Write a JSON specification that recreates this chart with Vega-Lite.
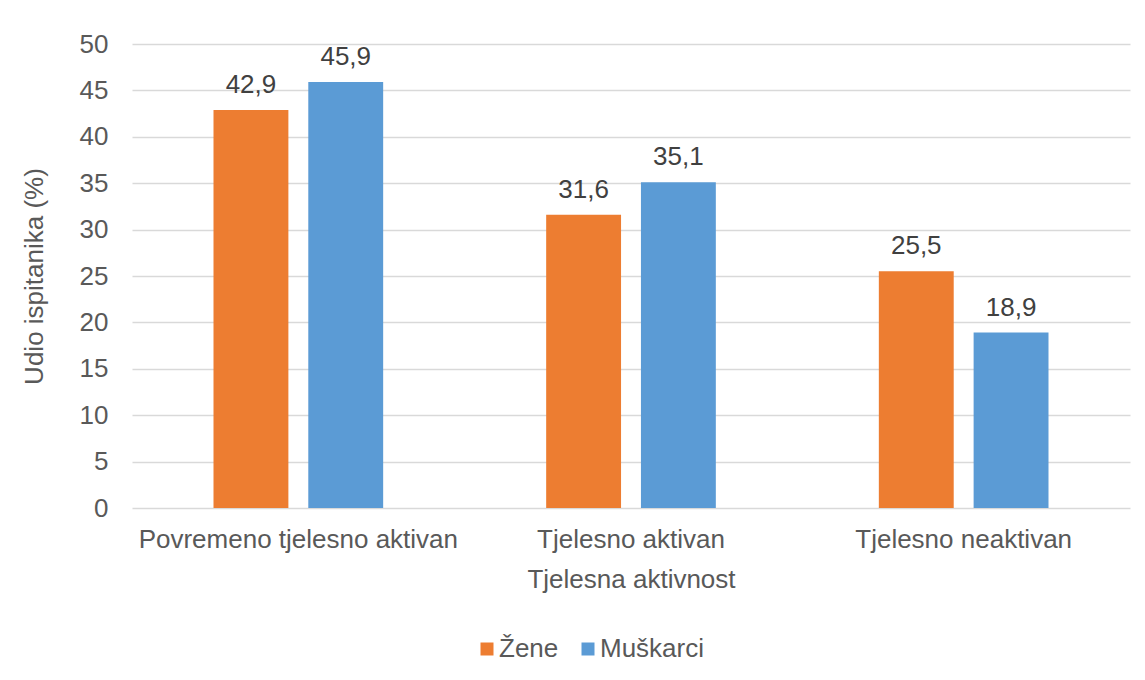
{
  "$schema": "https://vega.github.io/schema/vega-lite/v6.json",
  "width": 998,
  "height": 464,
  "autosize": {"type": "none"},
  "padding": {"left": 132, "top": 44, "right": 15, "bottom": 172},
  "background": "white",
  "config": {
    "font": "Liberation Sans",
    "view": {"stroke": null},
    "locale": {"number": {"decimal": ",", "thousands": ".", "grouping": [3], "currency": ["", ""]}}
  },
  "data": {
    "values": [
      {"aktivnost": "Povremeno tjelesno aktivan", "spol": "Žene", "udio": 42.9},
      {"aktivnost": "Povremeno tjelesno aktivan", "spol": "Muškarci", "udio": 45.9},
      {"aktivnost": "Tjelesno aktivan", "spol": "Žene", "udio": 31.6},
      {"aktivnost": "Tjelesno aktivan", "spol": "Muškarci", "udio": 35.1},
      {"aktivnost": "Tjelesno neaktivan", "spol": "Žene", "udio": 25.5},
      {"aktivnost": "Tjelesno neaktivan", "spol": "Muškarci", "udio": 18.9}
    ]
  },
  "encoding": {
    "x": {
      "field": "aktivnost", "type": "nominal", "sort": null,
      "scale": {"paddingInner": 0.49, "paddingOuter": 0.245},
      "axis": {
        "title": "Tjelesna aktivnost", "labelAngle": 0, "labelFontSize": 26, "labelColor": "#595959",
        "labelLimit": 0,
        "titleFontSize": 26, "titleColor": "#595959", "titleFontWeight": "normal",
        "domain": false, "ticks": false, "labelPadding": 18, "titlePadding": 14
      }
    },
    "xOffset": {
      "field": "spol", "type": "nominal", "sort": ["Žene", "Muškarci"],
      "scale": {"paddingInner": 0.21, "paddingOuter": 0}
    },
    "y": {
      "field": "udio", "type": "quantitative",
      "scale": {"domain": [0, 50], "nice": false},
      "axis": {
        "title": "Udio ispitanika (%)", "values": [0, 5, 10, 15, 20, 25, 30, 35, 40, 45, 50],
        "labelFontSize": 26, "labelColor": "#595959", "titleFontSize": 26, "titleColor": "#595959",
        "titleFontWeight": "normal", "domain": false, "ticks": false, "labelPadding": 24,
        "titlePadding": 32, "gridColor": "#D9D9D9", "gridWidth": 1.3
      }
    }
  },
  "layer": [
    {
      "mark": {"type": "bar"},
      "encoding": {
        "color": {
          "field": "spol", "type": "nominal",
          "scale": {"domain": ["Žene", "Muškarci"], "range": ["#ED7D31", "#5B9BD5"]},
          "legend": {
            "title": null, "orient": "none", "legendX": 342, "legendY": 592,
            "direction": "horizontal", "symbolType": "square",
            "symbolSize": 169, "labelFontSize": 26, "labelColor": "#595959", "labelOffset": -1,
            "columnPadding": 16
          }
        }
      }
    },
    {
      "mark": {"type": "text", "baseline": "bottom", "dy": -12, "fontSize": 26, "color": "#404040"},
      "encoding": {
        "text": {"field": "udio", "type": "quantitative", "format": ".1f"}
      }
    }
  ]
}
